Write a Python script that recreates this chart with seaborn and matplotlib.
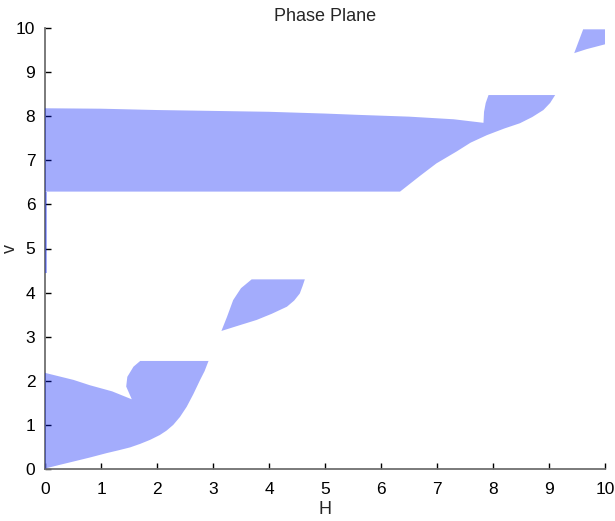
import matplotlib
matplotlib.use("Agg")
import matplotlib.pyplot as plt
import seaborn as sns
import numpy as np

# Region boundaries (H, v)
r1_H = [0, 0.51, 0.80, 1.20, 1.55, 1.45, 1.47, 1.58, 1.70, 2.92, 2.85, 2.77, 2.65, 2.53, 2.41, 2.29,
        2.17, 2.05, 1.875, 1.70, 1.52, 1.30, 1.10, 0.80, 0.51, 0.25, 0.03, 0]
r1_v = [2.18, 2.02, 1.90, 1.76, 1.58, 1.87, 2.09, 2.32, 2.45, 2.45, 2.22, 2.02, 1.70, 1.41, 1.18, 1.00,
        0.87, 0.77, 0.66, 0.57, 0.49, 0.42, 0.36, 0.26, 0.17, 0.09, 0.02, 0]

r2_H = [3.15, 3.25, 3.36, 3.50, 3.69, 4.64, 4.60, 4.55, 4.45, 4.32, 4.05, 3.78, 3.45]
r2_v = [3.13, 3.45, 3.83, 4.10, 4.30, 4.30, 4.15, 3.98, 3.82, 3.68, 3.52, 3.38, 3.25]

r3_H = [0, 1, 2, 3, 4, 5, 5.6, 6.5, 7.3, 7.83, 7.84, 7.87, 7.92, 9.11, 9.02, 8.90, 8.70,
        8.48, 8.20, 7.89, 7.60, 7.35, 6.99, 6.70, 6.34, 0]
r3_v = [8.18, 8.17, 8.14, 8.12, 8.10, 8.06, 8.03, 7.99, 7.93, 7.85, 8.10, 8.30, 8.48, 8.48, 8.30, 8.14, 7.98,
        7.84, 7.72, 7.57, 7.40, 7.20, 6.93, 6.65, 6.29, 6.29]

r4_H = [9.45, 9.53, 9.61, 10.0, 10.0, 9.67]
r4_v = [9.43, 9.70, 9.97, 9.97, 9.63, 9.52]

r5_H = [0, 0.03, 0.03, 0]
r5_v = [4.45, 4.45, 6.29, 6.29]

x_ticks = list(range(0, 11))
y_ticks = list(range(0, 11))

sns.set_theme(style="ticks")
plt.rcParams['font.family'] = ['Liberation Sans', 'DejaVu Sans']

fig = plt.figure(figsize=(6.15, 5.21), dpi=100)
ax = fig.add_axes([45/615, 52/521, 560/615, 441/521])

fill_color = (0.0, 0.1, 0.97)
for hs, vs in [(r1_H, r1_v), (r2_H, r2_v), (r3_H, r3_v), (r4_H, r4_v), (r5_H, r5_v)]:
    ax.fill(hs, vs, color=fill_color, alpha=0.36, linewidth=0, zorder=3, clip_on=False)

ax.set_xlim(0, 10)
ax.set_ylim(0, 10)
ax.set_xticks(x_ticks)
ax.set_yticks(y_ticks)
ax.tick_params(direction='in', length=4, width=1, colors='black', labelsize=12.5)
ax.tick_params(axis='x', pad=9)
ax.tick_params(axis='y', pad=7)
for s in ['top', 'right']:
    ax.spines[s].set_visible(False)
for s in ['left', 'bottom']:
    ax.spines[s].set_color('#707070')
    ax.spines[s].set_linewidth(1.3)
    ax.spines[s].set_zorder(2)

ax.set_title("Phase Plane", fontsize=13, pad=5)
ax.set_xlabel("H", fontsize=13, labelpad=3)
ax.set_ylabel("v", fontsize=13)
ax.yaxis.set_label_coords(-0.047, 0.5)

fig.savefig("out.png", dpi=100)
